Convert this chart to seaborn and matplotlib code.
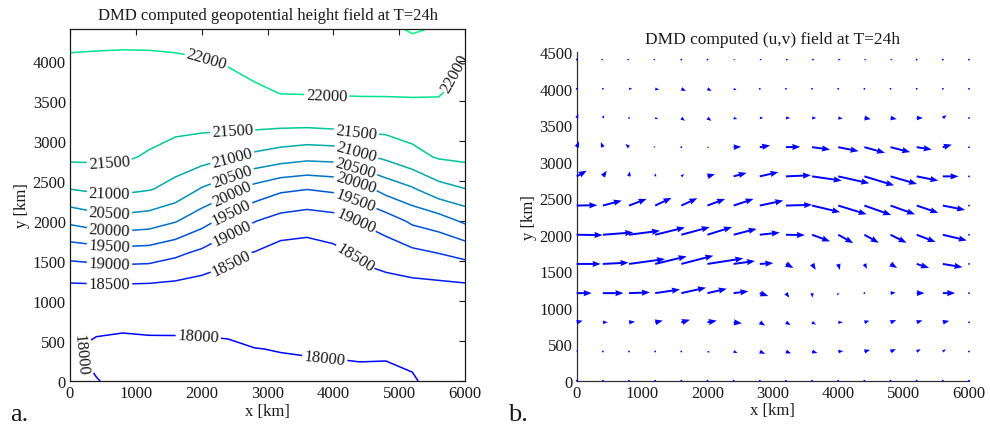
import numpy as np
import matplotlib
matplotlib.use("Agg")
import matplotlib.pyplot as plt
import seaborn as sns

# ---------------- data ----------------
x_grid = [0, 400, 800, 1200, 1600, 2000, 2400, 2800, 3200, 3600, 4000, 4400, 4800, 5200, 5600, 6000]
y_grid = [0, 400, 800, 1200, 1600, 2000, 2400, 2800, 3200, 3600, 4000, 4400]

# geopotential height field (rows = y_grid, columns = x_grid)
geopotential = [
    [18050, 18010, 17940, 17930, 17930, 17920, 17910, 17900, 17920, 17920, 17920, 17920, 17900, 17960, 18140, 18100],
    [18026, 17930, 17900, 17920, 17920, 17917, 17932, 17994, 18010, 18023, 18035, 18054, 18060, 18105, 18200, 18180],
    [18220, 18112, 18100, 18107, 18110, 18125, 18149, 18156, 18109, 18115, 18151, 18210, 18205, 18247, 18300, 18300],
    [18455, 18471, 18475, 18459, 18411, 18332, 18365, 18318, 18209, 18207, 18266, 18366, 18350, 18388, 18414, 18456],
    [19175, 19241, 19295, 19268, 19104, 18891, 18590, 18480, 18308, 18299, 18382, 18564, 18730, 18886, 19007, 19145],
    [20105, 20266, 20313, 20249, 20036, 19690, 19319, 19020, 18803, 18711, 18790, 19035, 19250, 19588, 19755, 20088],
    [21004, 21098, 21118, 21034, 20850, 20463, 20189, 19828, 19595, 19512, 19591, 19800, 20187, 20445, 20828, 20991],
    [21593, 21587, 21577, 21440, 21250, 21204, 21042, 20883, 20740, 20638, 20670, 20888, 21092, 21348, 21543, 21602],
    [21718, 21712, 21703, 21707, 21650, 21599, 21613, 21613, 21587, 21578, 21619, 21680, 21680, 21724, 21787, 21725],
    [21843, 21836, 21829, 21833, 21805, 21789, 21826, 21900, 22011, 22022, 22031, 22038, 22040, 22044, 22030, 21848],
    [21968, 21961, 21956, 21958, 21960, 21979, 22040, 22186, 22140, 22140, 22150, 22170, 22200, 22330, 22240, 21972],
    [22092, 22086, 22082, 22084, 22115, 22168, 22200, 22300, 22250, 22230, 22240, 22300, 22435, 22530, 22475, 22095],
]
levels = [18000, 18500, 19000, 19500, 20000, 20500, 21000, 21500, 22000, 22500]

# wind components (rows = y_grid, columns = x_grid), drawn in km per unit
u_wind = [
    [25, 25, 25, 25, 25, 25, 25, 25, 25, 25, 25, 25, 25, 25, 25, 15],
    [20, 5, -10, -10, 5, 40, 61, 82, 80, 82, 78, 87, 82, 61, 46, 5],
    [92, 76, 92, 117, 133, 143, 128, 82, 73, 61, 71, 77, 87, 87, 97, 5],
    [230, 316, 320, 380, 378, 296, 225, 130, 53, 5, -15, 5, 80, 120, 189, 10],
    [367, 393, 551, 481, 490, 548, 327, 207, 115, 56, 25, 40, 100, 189, 300, 10],
    [395, 464, 474, 456, 435, 375, 352, 306, 290, 275, 230, 220, 245, 290, 367, 10],
    [316, 290, 270, 250, 245, 270, 305, 360, 400, 430, 435, 410, 375, 330, 340, 10],
    [153, 60, 12, 10, 45, 115, 200, 285, 383, 454, 475, 455, 405, 331, 240, 10],
    [35, -30, -55, -30, -5, 30, 115, 158, 220, 275, 311, 316, 301, 230, 138, 5],
    [25, 20, 20, 45, 55, 60, 55, 55, 65, 65, 70, 100, 95, 95, 55, 5],
    [25, 20, 50, 60, 70, 65, 45, 20, 15, 15, 15, 8, 15, 15, 20, 5],
    [10, -35, -35, -35, -15, -15, 30, 35, 40, 40, 40, 35, 35, 30, 20, 10],
]
v_wind = [
    [0, 0, 0, 0, 0, 0, 0, 0, 0, 0, 0, 0, 0, 0, 0, 0],
    [25, 0, 0, 0, 0, -10, -18, -32, -25, -20, 5, 23, 32, 32, 32, 0],
    [23, 0, 9, 23, 36, 23, -14, -45, -37, -32, 0, 23, 30, 27, 20, 0],
    [0, 0, 10, 50, 75, 60, 25, -40, -63, -63, -35, 0, 8, 0, 0, 0],
    [0, 18, 67, 104, 113, 76, 40, 12, -55, -82, -82, -68, -55, -55, -45, 0],
    [-5, 32, 55, 100, 105, 105, 82, 30, -5, -91, -114, -110, -110, -100, -78, 0],
    [5, 68, 91, 105, 100, 91, 91, 68, 10, -91, -120, -130, -120, -100, -60, 0],
    [78, 78, 70, 42, 32, 30, 48, 58, 15, -59, -95, -124, -105, -59, 0, 0],
    [80, 70, 45, 10, -5, -10, 5, 24, 5, -32, -55, -78, -68, -32, 35, 0],
    [55, 40, 20, -15, -40, -40, -15, 0, 0, 0, -10, -15, -15, 0, 40, 0],
    [10, 15, 0, -15, -30, -30, -15, 0, 0, 0, 0, 0, 0, 0, 15, 0],
    [0, 0, 0, 0, 0, 0, 0, 0, 0, 0, 0, 0, 0, 0, 0, 0],
]

x_ticks = [0, 1000, 2000, 3000, 4000, 5000, 6000]
y_ticks_left = [0, 500, 1000, 1500, 2000, 2500, 3000, 3500, 4000]
y_ticks_right = [0, 500, 1000, 1500, 2000, 2500, 3000, 3500, 4000, 4500]

# ---------------- style ----------------
sns.set_theme(style="white")
plt.rcParams["font.family"] = ["Liberation Serif", "DejaVu Serif"]
for key in ["text.color", "axes.labelcolor", "xtick.color", "ytick.color", "axes.edgecolor"]:
    plt.rcParams[key] = "black"

fig = plt.figure(figsize=(9.9, 4.31), dpi=100)
W, H = 990.0, 431.0
ax1 = fig.add_axes([70 / W, 1 - 382 / H, 395 / W, 352 / H])
ax2 = fig.add_axes([576.7 / W, 1 - 381.7 / H, 392.3 / W, 328.4 / H])

# ---------------- left: contour ----------------
Z = np.array(geopotential, dtype=float)
cs = ax1.contour(x_grid, y_grid, Z, levels=levels, cmap="winter",
                 vmin=levels[0], vmax=levels[-1], linewidths=1.1)
label_pos = [
    (2080, 4030), (3900, 3570), (5860, 3850),
    (600, 2730), (2470, 3118), (4350, 3110),
    (600, 2345), (2470, 2775), (4350, 2855),
    (600, 2100), (2470, 2545), (4330, 2640),
    (600, 1880), (2470, 2325), (4330, 2450),
    (600, 1690), (2470, 2080), (4330, 2250),
    (600, 1460), (2470, 1830), (4330, 1985),
    (600, 1215), (2470, 1450), (4350, 1555),
    (150, 330), (1950, 560), (3870, 285),
]
ax1.clabel(cs, fmt="%d", fontsize=12, colors="k", inline=True,
           inline_spacing=2, manual=label_pos)
ax1.set_xlim(0, 6000)
ax1.set_ylim(0, 4400)
ax1.set_xticks(x_ticks)
ax1.set_yticks(y_ticks_left)
ax1.tick_params(direction="in", top=True, right=True, length=4, width=0.8,
                labelsize=12, pad=3, colors="k")
for s in ax1.spines.values():
    s.set_color("k")
    s.set_linewidth(0.9)
ax1.set_title("DMD computed geopotential height field at T=24h", fontsize=12, pad=7, color="k")
ax1.set_xlabel("x [km]", fontsize=12, labelpad=1, color="k")
ax1.set_ylabel("y [km]", fontsize=12, labelpad=2, color="k")

# ---------------- right: quiver ----------------
X, Y = np.meshgrid(x_grid, y_grid)
ax2.quiver(X, Y, np.array(u_wind, float), np.array(v_wind, float),
           angles="xy", scale_units="xy", scale=1, color="#0000ff",
           width=0.005, headwidth=3.2, headlength=4.2, headaxislength=3.8,
           clip_on=False, zorder=3)
ax2.set_xlim(0, 6000)
ax2.set_ylim(0, 4500)
ax2.set_xticks(x_ticks)
ax2.set_yticks(y_ticks_right)
ax2.tick_params(direction="in", length=4, width=0.8, labelsize=12, pad=3, colors="k")
for side in ["top", "right"]:
    ax2.spines[side].set_visible(False)
for side in ["left", "bottom"]:
    ax2.spines[side].set_color("#303030")
    ax2.spines[side].set_linewidth(0.9)
ax2.set_title("DMD computed (u,v) field at T=24h", fontsize=12.5, pad=7, color="k")
ax2.set_xlabel("x [km]", fontsize=12, labelpad=1, color="k")
ax2.set_ylabel("y [km]", fontsize=12, labelpad=2, color="k")

fig.text(10 / W, 1 - 421 / H, "a.", fontsize=19, va="baseline", ha="left", color="k")
fig.text(508 / W, 1 - 421 / H, "b.", fontsize=19, va="baseline", ha="left", color="k")

fig.savefig("out.png", dpi=100)
